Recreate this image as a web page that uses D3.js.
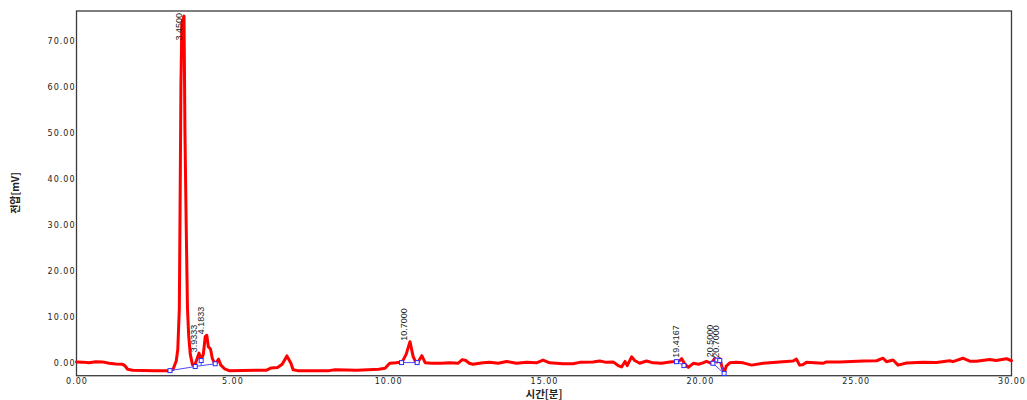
<!DOCTYPE html>
<html><head><meta charset="utf-8">
<script src="https://cdn.jsdelivr.net/npm/d3@7/dist/d3.min.js"></script>
<style>
html,body{margin:0;padding:0;background:#fff;}
svg{display:block;}
.tick text{font-family:"DejaVu Sans",sans-serif;font-size:8px;letter-spacing:1px;fill:#222;}
.plabel{font-family:"Liberation Sans Narrow","Arial Narrow","Liberation Sans",sans-serif;font-size:9px;fill:#222;}
.atitle{font-family:"Noto Sans CJK KR","Noto Sans",sans-serif;font-weight:bold;fill:#222;}
</style></head>
<body>
<script>
// ---- data ----
const times = [0,0.2,0.4,0.62,0.83,1.05,1.26,1.48,1.56,1.64,1.8,2.5,3.0,3.1,3.2,3.25,3.30,3.33,3.35,3.38,3.45,3.48,3.52,3.56,3.60,3.65,3.72,3.78,3.85,3.93,4.0,4.07,4.13,4.18,4.23,4.30,4.36,4.43,4.50,4.56,4.63,4.75,4.9,6.1,6.25,6.45,6.6,6.75,6.88,6.95,7.1,8.1,8.3,9.0,9.7,9.9,10.05,10.25,10.45,10.58,10.70,10.80,10.88,10.97,11.08,11.19,11.4,11.7,11.98,12.24,12.38,12.49,12.6,12.72,13.04,13.26,13.53,13.8,14.12,14.44,14.76,14.97,15.18,15.61,15.93,16.15,16.57,16.79,17.0,17.22,17.38,17.49,17.6,17.67,17.81,17.91,18.07,18.29,18.5,18.77,19.04,19.2,19.36,19.42,19.52,19.63,19.79,19.96,20.1,20.21,20.37,20.48,20.55,20.64,20.72,20.78,20.85,20.96,21.17,21.39,21.66,22.03,22.56,22.99,23.1,23.2,23.3,23.42,23.95,24.06,24.49,25.24,25.67,25.88,25.99,26.2,26.36,26.63,27.16,27.59,28.02,28.12,28.44,28.66,28.87,29.3,29.5,29.84,30.0];
const voltages = [0.3,0.25,0.1,0.35,0.3,0.0,-0.15,-0.2,-0.6,-1.3,-1.5,-1.6,-1.6,-1.3,0.5,3,12,40,60,74,75.5,50,30,12,6,2,-0.3,-0.6,0.6,2.2,0.6,2.0,5.8,6.1,3.6,3.1,1.0,0.0,0.3,0.9,-0.4,-1.2,-1.6,-1.5,-1.0,-0.9,-0.2,1.6,0.0,-1.4,-1.6,-1.6,-1.4,-1.5,-1.3,-1.1,0.0,0.1,0.3,2.0,4.7,1.5,0.3,0.4,1.65,0.1,0.0,0.0,0.1,0.0,0.8,0.6,0.0,-0.2,0.1,0.2,0.0,0.4,0.0,0.2,0.1,0.7,0.1,-0.1,-0.1,0.2,0.3,0.5,0.2,0.3,-0.5,-0.8,0.4,-0.5,1.4,0.6,0.0,0.5,0.1,0.0,0.3,0.4,0.6,1.0,-0.2,-0.9,0.0,-0.2,0.1,0.4,0.0,1.1,0.3,1.0,-1.0,-2.1,-0.6,0.1,0.2,0.1,-0.4,0.0,0.3,0.5,0.9,-0.4,-0.3,0.2,0.0,0.3,0.3,0.5,0.55,1.1,0.35,0.7,-0.4,0.05,0.2,0.15,0.55,0.35,1.1,0.45,0.45,0.8,0.6,1.0,0.55];

const peakTimes = [3.45,3.9333,4.1833,10.7,19.4167,20.5,20.7];
const peakHeights = [75.5,2.2,6.1,4.7,1.0,1.1,1.0];
const peakLabels = ["3.4500","3.9333","4.1833","10.7000","19.4167","20.5000","20.7000"];

// integration baselines (time, value) pairs
const baselineSegments = [
  [[3.0,-1.6],[3.81,-0.7],[4.45,-0.1]],
  [[4.0,0.6],[4.0,-0.55]],
  [[10.43,0.15],[10.93,0.15]],
  [[19.25,0.35],[19.49,-0.5]],
  [[20.42,0.0],[20.78,-2.2]],
  [[20.64,0.6],[20.78,-2.2]]
];
const baselineMarkers = [[3.0,-1.6],[3.81,-0.7],[4.0,0.6],[4.45,-0.1],[10.43,0.15],[10.93,0.15],[19.25,0.35],[19.49,-0.5],[20.42,0.0],[20.55,0.7],[20.64,0.6],[20.78,-2.2]];

const xTicks = [0,5,10,15,20,25,30];
const yTicks = [0,10,20,30,40,50,60,70];
const xTitle = "시간[분]";
const yTitle = "전압[mV]";

// ---- chart ----
const W = 1027, H = 400;
const L = 76.5, R = 1011.5, T = 11, B = 375.7;
const svg = d3.select("body").append("svg").attr("width", W).attr("height", H);

const x = d3.scaleLinear().domain([0,30]).range([L,R]);
const y = d3.scaleLinear().domain([-2.7,76.6]).range([B,T]);

// axes (labels only)
const xa = svg.append("g").attr("transform",`translate(0,${B})`)
  .call(d3.axisBottom(x).tickValues(xTicks).tickSize(0).tickPadding(3).tickFormat(d3.format(".2f")));
xa.select(".domain").remove();
xa.selectAll("text").attr("dy","0.71em").attr("y",2.5);

const ya = svg.append("g").attr("transform",`translate(${L},0)`)
  .call(d3.axisLeft(y).tickValues(yTicks).tickSize(0).tickPadding(1).tickFormat(d3.format(".2f")));
ya.select(".domain").remove();

// frame
svg.append("rect").attr("x",L).attr("y",T).attr("width",R-L).attr("height",B-T)
  .attr("fill","none").attr("stroke","#3a3a3a").attr("stroke-width",1.3);

// trace
const pts = times.map((t,i)=>[t,voltages[i]]);
const line = d3.line().x(d=>x(d[0])).y(d=>y(d[1]));
svg.append("path").datum(pts).attr("d",line)
  .attr("fill","none").attr("stroke","#ff0000").attr("stroke-width",3)
  .attr("stroke-linejoin","round").attr("stroke-linecap","round");

// baselines
svg.selectAll(".bl").data(baselineSegments).enter().append("path")
  .attr("d",line).attr("fill","none").attr("stroke","#4a4aff").attr("stroke-width",1);
svg.selectAll(".bm").data(baselineMarkers).enter().append("rect")
  .attr("x",d=>x(d[0])-2).attr("y",d=>y(d[1])-2).attr("width",4).attr("height",4)
  .attr("fill","#fff").attr("stroke","#2a2aff").attr("stroke-width",1);

// peak labels
peakTimes.forEach((t,i)=>{
  const px = x(t)-2.5, py = y(peakHeights[i])-1;
  const txt = svg.append("text").attr("class","plabel").text(peakLabels[i]);
  const len = txt.node().getComputedTextLength();
  const start = Math.max(py, T+2+len);
  txt.attr("transform",`translate(${px},${start}) rotate(-90)`);
});

// titles
svg.append("text").attr("class","atitle").attr("font-size",10.5)
  .attr("x",(L+R)/2).attr("y",398).attr("text-anchor","middle").text(xTitle);
svg.append("text").attr("class","atitle").attr("font-size",10)
  .attr("transform",`translate(19,193) rotate(-90)`).attr("text-anchor","middle").text(yTitle);
</script>
</body></html>
